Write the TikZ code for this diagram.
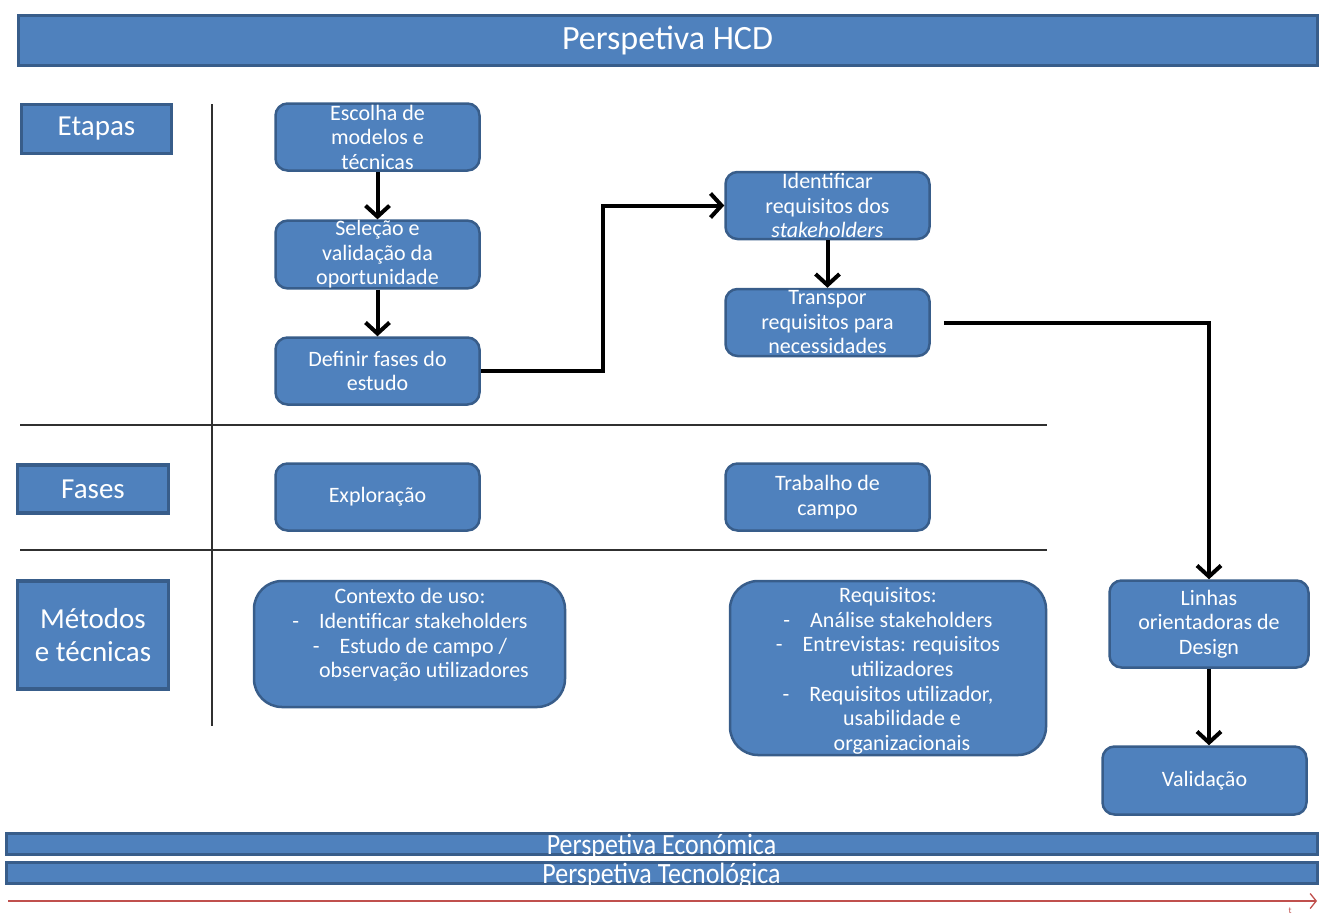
\documentclass[tikz,border=0pt]{standalone}
\usepackage{fontspec}
\setmainfont{Carlito}
\usetikzlibrary{arrows.meta}
\definecolor{hcdfill}{HTML}{4F81BD}
\definecolor{hcdborder}{HTML}{385D8A}
\definecolor{sepline}{HTML}{303030}
\definecolor{timeline}{HTML}{C0504D}
\tikzset{
  blk/.style={draw=hcdborder, fill=hcdfill, line width=2.5pt, rounded corners=12pt,
    text=white, font=\fontsize{22}{24.5}\selectfont, align=center, inner sep=0pt},
  bigblk/.style={blk, rounded corners=28pt},
  lbl/.style={draw=hcdborder, fill=hcdfill, line width=3.5pt, text=white,
    font=\fontsize{29}{33}\selectfont, align=center, inner sep=0pt},
  bar/.style={draw=hcdborder, fill=hcdfill, line width=3pt, inner sep=0pt},
  bartext/.style={text=white, font=\fontsize{26}{28}\selectfont, inner sep=0pt,
    anchor=base, yscale=1.13},
  listtext/.style={text=white, font=\fontsize{22}{24.8}\selectfont, align=center,
    inner sep=0pt, anchor=north},
  flow/.style={line width=4pt, -{Straight Barb[length=11pt,width=24pt,line width=4pt]}},
  sep/.style={draw=sepline, line width=1.3pt},
}
\begin{document}
\begin{tikzpicture}[x=1pt,y=-1pt]
\useasboundingbox (0,0) rectangle (1327,916);

% header bar
\node[bar, minimum width=1299pt, minimum height=50pt, text=white,
      font=\fontsize{34}{38}\selectfont] (title) at (667.5,40) {Perspetiva HCD};

% row labels
\node[lbl, minimum width=150pt, minimum height=49pt] (etapas) at (96.5,129) {Etapas};
\node[lbl, minimum width=151pt, minimum height=48pt] (fases) at (93,489) {Fases};
\node[lbl, minimum width=151pt, minimum height=108pt] (metodos) at (93,635) {Métodos\\e técnicas};

% separators
\coordinate (vtop) at (212,104);
\coordinate (vbot) at (212,726);
\coordinate (h1l) at (20,425);
\coordinate (h1r) at (1047,425);
\coordinate (h2l) at (20,550);
\coordinate (h2r) at (1047,550);
\draw[sep] (vtop) -- (vbot);
\draw[sep] (h1l) -- (h1r);
\draw[sep] (h2l) -- (h2r);

% stages
\node[blk, minimum width=204pt, minimum height=67pt] (esc) at (377.5,137) {Escolha de\\modelos e\\técnicas};
\node[blk, minimum width=204pt, minimum height=67pt] (sel) at (377.5,254.5) {Seleção e\\validação da\\oportunidade};
\node[blk, minimum width=204pt, minimum height=67pt] (def) at (377.5,371) {Definir fases do\\estudo};
\node[blk, minimum width=204pt, minimum height=67pt] (ide) at (827.5,205.5) {Identificar\\requisitos dos\\\textit{stakeholders}};
\node[blk, minimum width=204pt, minimum height=67pt] (tra) at (827.5,322.5) {Transpor\\requisitos para\\necessidades};

% phases
\node[blk, minimum width=204pt, minimum height=67pt] (exp) at (377.5,497) {Exploração};
\node[blk, minimum width=204pt, minimum height=67pt] (tc) at (827.5,497) {Trabalho de\\campo};

% methods
\node[bigblk, minimum width=311pt, minimum height=126pt] (ctx) at (409.5,644) {};
\node[listtext] (ctxtxt) at (410,588) {Contexto de uso:\\
  -\hspace{20pt}Identificar stakeholders\\
  -\hspace{20pt}Estudo de campo /\\
  \hspace*{28pt}observação utilizadores};
\node[bigblk, minimum width=316pt, minimum height=174pt] (req) at (888,668) {};
\node[listtext, font=\fontsize{22}{24.7}\selectfont] (reqtxt) at (888,587) {Requisitos:\\
  -\hspace{20pt}Análise stakeholders\\
  -\hspace{20pt}Entrevistas: requisitos\\
  \hspace*{28pt}utilizadores\\
  -\hspace{20pt}Requisitos utilizador,\\
  \hspace*{28pt}usabilidade e\\
  \hspace*{28pt}organizacionais};

% design and validation
\node[blk, minimum width=199pt, minimum height=87pt] (lin) at (1209,624) {Linhas\\orientadoras de\\Design};
\node[blk, minimum width=204pt, minimum height=68pt] (val) at (1204.5,780.5) {Validação};

% flow
\draw[flow] (esc) -- (sel);
\draw[flow] (sel) -- (def);
\draw[flow] (def.east) -- ++(122,0) |- (ide.west);
\draw[flow] (ide) -- (tra);
\draw[flow, shorten <=13pt] (tra.east) -| (lin.north);
\draw[flow] (lin.south) -- (lin.south |- val.north);

% lower perspective bars
\node[bar, minimum width=1311pt, minimum height=21pt] (eco) at (661.5,843.5) {};
\node[bartext] (ecotxt) at (661.5,854) {Perspetiva Económica};
\node[bar, minimum width=1311pt, minimum height=21pt] (tec) at (661.5,872.5) {};
\node[bartext] (tectxt) at (661.5,883) {Perspetiva Tecnológica};

% time axis
\coordinate (tl) at (8,901);
\coordinate (tr) at (1317,901);
\draw[timeline, line width=1.3pt, -{Straight Barb[length=6pt,width=15pt,line width=1.3pt]}] (tl) -- (tr);
\node[text=timeline, font=\fontsize{9}{10}\selectfont, inner sep=0pt] (tmark) at (1290,911) {t};
\end{tikzpicture}
\end{document}
